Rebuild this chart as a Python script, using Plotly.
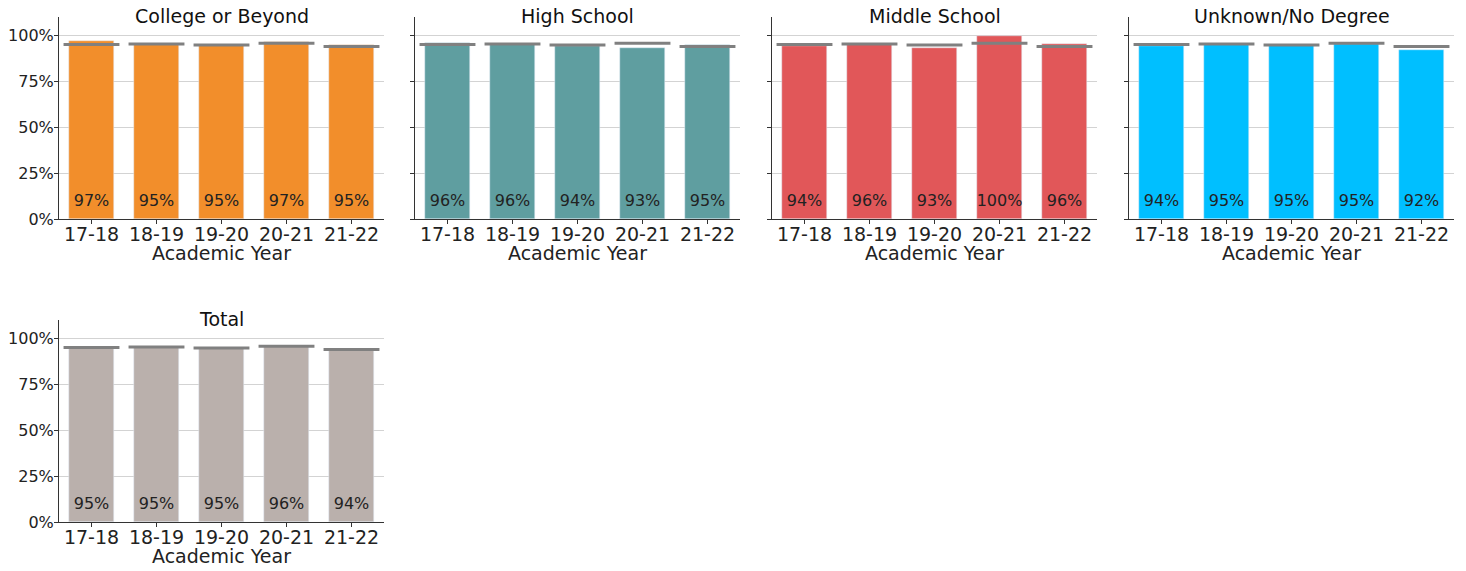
import plotly.graph_objects as go

years = ["17-18", "18-19", "19-20", "20-21", "21-22"]
groups = ["College or Beyond", "High School", "Middle School", "Unknown/No Degree", "Total"]
college = [0.968, 0.953, 0.948, 0.965, 0.946]
high_school = [0.957, 0.955, 0.944, 0.930, 0.946]
middle_school = [0.940, 0.955, 0.930, 0.998, 0.955]
unknown = [0.944, 0.952, 0.948, 0.953, 0.920]
total = [0.950, 0.953, 0.948, 0.957, 0.940]
labels = {
    "College or Beyond": ["97%", "95%", "95%", "97%", "95%"],
    "High School": ["96%", "96%", "94%", "93%", "95%"],
    "Middle School": ["94%", "96%", "93%", "100%", "96%"],
    "Unknown/No Degree": ["94%", "95%", "95%", "95%", "92%"],
    "Total": ["95%", "95%", "95%", "96%", "94%"],
}
values = {
    "College or Beyond": college,
    "High School": high_school,
    "Middle School": middle_school,
    "Unknown/No Degree": unknown,
    "Total": total,
}
colors = {
    "College or Beyond": "#F28E2B",
    "High School": "#5F9EA0",
    "Middle School": "#E15759",
    "Unknown/No Degree": "#00BFFF",
    "Total": "#BAB0AC",
}
x_title = "Academic Year"

W, H = 1466, 571
FONT = "DejaVu Sans"
col_left = [59, 415, 772, 1129]
panel_w = 325
rows_px = [(17, 219), (320, 522)]

fig = go.Figure()
layout = {}
annotations = []
xs = list(range(len(years)))


def py(px):
    return 1 - px / H


for k, g in enumerate(groups):
    r, c = divmod(k, 4)
    idx = k + 1
    xa = "x" if idx == 1 else f"x{idx}"
    ya = "y" if idx == 1 else f"y{idx}"
    vals = values[g]
    fig.add_trace(go.Bar(x=xs, y=vals, marker_color=colors[g], width=0.7,
                         xaxis=xa, yaxis=ya, showlegend=False, hoverinfo="skip"))
    lx, ly = [], []
    for i, t in enumerate(total):
        lx += [i - 0.43, i + 0.43, None]
        ly += [t, t, None]
    fig.add_trace(go.Scatter(x=lx, y=ly, mode="lines", line=dict(color="#808080", width=3),
                             xaxis=xa, yaxis=ya, showlegend=False, hoverinfo="skip"))
    fig.add_trace(go.Scatter(x=xs, y=[0.09] * len(xs), mode="text", text=labels[g],
                             textfont=dict(family=FONT, size=16, color="#222222"),
                             xaxis=xa, yaxis=ya, showlegend=False, hoverinfo="skip"))
    x0 = col_left[c] / W
    x1 = (col_left[c] + panel_w) / W
    top, bot = rows_px[r]
    layout["xaxis" if idx == 1 else f"xaxis{idx}"] = dict(
        domain=[x0, x1], anchor=ya, range=[-0.5, 4.5], automargin=False,
        tickmode="array", tickvals=xs, ticktext=years,
        tickfont=dict(family=FONT, size=19, color="#222222"),
        showline=True, linecolor="#333333", linewidth=1,
        ticks="outside", ticklen=4, tickcolor="#333333", ticklabelstandoff=-6,
        showgrid=False, zeroline=False,
    )
    layout["yaxis" if idx == 1 else f"yaxis{idx}"] = dict(
        domain=[py(bot), py(top)], anchor=xa, range=[0, 1.1], automargin=False,
        tickmode="array", tickvals=[0, 0.25, 0.5, 0.75, 1.0],
        ticktext=["0%", "25%", "50%", "75%", "100%"] if c == 0 else ["", "", "", "", ""],
        tickfont=dict(family=FONT, size=16, color="#222222"),
        showline=True, linecolor="#333333", linewidth=1,
        ticks="outside", ticklen=4, tickcolor="#333333", ticklabelstandoff=-3,
        showgrid=True, gridcolor="#D3D3D3", gridwidth=1, zeroline=False,
    )
    annotations.append(dict(text=g, x=(x0 + x1) / 2, y=py(top - 1),
                            xref="paper", yref="paper",
                            xanchor="center", yanchor="middle", showarrow=False,
                            font=dict(family=FONT, size=19, color="#111111")))
    annotations.append(dict(text=x_title, x=(x0 + x1) / 2, y=py(bot + 34),
                            xref="paper", yref="paper",
                            xanchor="center", yanchor="middle", showarrow=False,
                            font=dict(family=FONT, size=19, color="#222222")))

fig.update_layout(**layout)
fig.update_layout(width=W, height=H, margin=dict(l=0, r=0, t=0, b=0, autoexpand=False),
                  plot_bgcolor="white", paper_bgcolor="white",
                  annotations=annotations, bargap=0)
fig.write_html("out.html", config={"displayModeBar": False},
               post_script="document.body.style.margin='0px';")
